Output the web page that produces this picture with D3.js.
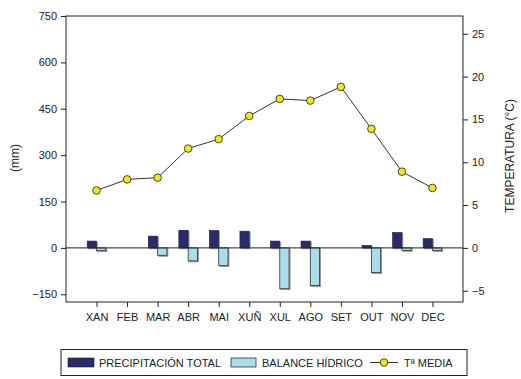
<!DOCTYPE html>
<html>
<head>
<meta charset="utf-8">
<script src="https://cdn.jsdelivr.net/npm/d3@7"></script>
<style>
  html, body { margin: 0; padding: 0; background: #fff; }
  svg { display: block; font-family: "Liberation Sans", Arial, sans-serif; }
</style>
</head>
<body>
<svg id="chart" width="521" height="379"></svg>
<script>
// Monthly climate data
const months = ["XAN", "FEB", "MAR", "ABR", "MAI", "XUÑ", "XUL", "AGO", "SET", "OUT", "NOV", "DEC"];
const precipitation = [22, 0, 38, 57, 56, 54, 22, 22, 0, 8, 50, 30];      // mm
const waterBalance = [-9, 0, -24, -42, -57, 0, -132, -122, 0, -80, -8, -8]; // mm
const temperature = [6.7, 8.0, 8.2, 11.6, 12.7, 15.4, 17.4, 17.2, 18.8, 13.9, 8.9, 7.0]; // °C
const mmTicks = [-150, 0, 150, 300, 450, 600, 750];
const tempTicks = [-5, 0, 5, 10, 15, 20, 25];

const svg = d3.select("#chart");
const plot = { left: 66, right: 463, top: 16, bottom: 302 };

const x = d3.scalePoint().domain(months).range([plot.left, plot.right]).padding(1);
const yMM = d3.scaleLinear().domain([-175, 750]).range([plot.bottom, plot.top]);
const yT = d3.scaleLinear().domain([-175 / 27.7, 750 / 27.7]).range([plot.bottom, plot.top]);

const barW = 9.3;
const navy = "#2c2a6c", lightBlue = "#a9dde8", yellow = "#f1e619";

// Shadow filter for the bars
const defs = svg.append("defs");
const f = defs.append("filter").attr("id", "shadow").attr("x", "-30%").attr("y", "-30%").attr("width", "160%").attr("height", "160%");
f.append("feDropShadow").attr("dx", 1).attr("dy", 1).attr("stdDeviation", 0.6).attr("flood-color", "#777").attr("flood-opacity", 0.8);

// Frame
svg.append("rect")
  .attr("x", plot.left).attr("y", plot.top)
  .attr("width", plot.right - plot.left).attr("height", plot.bottom - plot.top)
  .attr("fill", "none").attr("stroke", "#222").attr("stroke-width", 1);

// Precipitation bars (left of each month)
svg.append("g").selectAll("rect")
  .data(months.map((m, i) => ({ m, v: precipitation[i] })).filter(d => d.v !== 0))
  .join("rect")
  .attr("x", d => x(d.m) - barW)
  .attr("y", d => yMM(d.v))
  .attr("width", barW)
  .attr("height", d => yMM(0) - yMM(d.v))
  .attr("fill", navy).attr("stroke", "#1a1a40").attr("stroke-width", 0.6)
  .attr("filter", "url(#shadow)");

// Water balance bars (right of each month)
svg.append("g").selectAll("rect")
  .data(months.map((m, i) => ({ m, v: waterBalance[i] })).filter(d => d.v !== 0))
  .join("rect")
  .attr("x", d => x(d.m))
  .attr("y", d => yMM(Math.max(0, d.v)))
  .attr("width", barW)
  .attr("height", d => Math.abs(yMM(d.v) - yMM(0)))
  .attr("fill", lightBlue).attr("stroke", "#333").attr("stroke-width", 0.8)
  .attr("filter", "url(#shadow)");

// Zero line
svg.append("line")
  .attr("x1", plot.left).attr("x2", plot.right)
  .attr("y1", yMM(0)).attr("y2", yMM(0))
  .attr("stroke", "#222").attr("stroke-width", 1);

// Temperature line and markers
svg.append("path")
  .datum(temperature)
  .attr("fill", "none").attr("stroke", "#333").attr("stroke-width", 1)
  .attr("d", d3.line().x((d, i) => x(months[i])).y(d => yT(d)));

svg.append("g").selectAll("circle")
  .data(temperature)
  .join("circle")
  .attr("cx", (d, i) => x(months[i]))
  .attr("cy", d => yT(d))
  .attr("r", 3.8)
  .attr("fill", yellow).attr("stroke", "#333").attr("stroke-width", 0.9);

// Axes
function styleAxis(g) {
  g.select(".domain").remove();
  g.selectAll(".tick line").attr("stroke", "#222");
  g.selectAll(".tick text").attr("fill", "#222").style("font-size", "11px").style("font-family", "'Liberation Sans', Arial, sans-serif");
}

svg.append("g")
  .attr("transform", `translate(${plot.left},0)`)
  .call(d3.axisLeft(yMM).tickValues(mmTicks).tickSize(5).tickPadding(4))
  .call(styleAxis);

svg.append("g")
  .attr("transform", `translate(${plot.right},0)`)
  .call(d3.axisRight(yT).tickValues(tempTicks).tickSize(5).tickPadding(4))
  .call(styleAxis);

svg.append("g")
  .attr("transform", `translate(0,${plot.bottom})`)
  .call(d3.axisBottom(x).tickSize(5).tickPadding(6))
  .call(styleAxis);

// Axis titles
svg.append("text")
  .attr("transform", `translate(19,${(plot.top + plot.bottom) / 2 - 1}) rotate(-90)`)
  .attr("text-anchor", "middle")
  .style("font-size", "12px").attr("fill", "#222")
  .text("(mm)");

svg.append("text")
  .attr("transform", `translate(514,${(plot.top + plot.bottom) / 2 - 3}) rotate(-90)`)
  .attr("text-anchor", "middle")
  .style("font-size", "12px").attr("fill", "#222")
  .text("TEMPERATURA (°C)");

// Legend
const lg = svg.append("g");
lg.append("rect").attr("x", 61).attr("y", 349.5).attr("width", 406).attr("height", 26)
  .attr("fill", "#fff").attr("stroke", "#222").attr("stroke-width", 1);
const ly = 362.5;
const legendFont = "11px";
lg.append("rect").attr("x", 68).attr("y", ly - 4.5).attr("width", 26).attr("height", 9)
  .attr("fill", navy).attr("stroke", "#1a1a40").attr("stroke-width", 0.6);
lg.append("text").attr("x", 99).attr("y", ly + 4).style("font-size", legendFont).attr("fill", "#222").text("PRECIPITACIÓN TOTAL");
lg.append("rect").attr("x", 231).attr("y", ly - 4.5).attr("width", 25).attr("height", 9)
  .attr("fill", lightBlue).attr("stroke", "#333").attr("stroke-width", 0.8);
lg.append("text").attr("x", 262).attr("y", ly + 4).style("font-size", legendFont).attr("fill", "#222").text("BALANCE HÍDRICO");
lg.append("line").attr("x1", 370).attr("x2", 398).attr("y1", ly).attr("y2", ly).attr("stroke", "#333").attr("stroke-width", 1);
lg.append("circle").attr("cx", 384).attr("cy", ly).attr("r", 3.8).attr("fill", yellow).attr("stroke", "#333").attr("stroke-width", 0.9);
lg.append("text").attr("x", 404).attr("y", ly + 4).style("font-size", legendFont).attr("fill", "#222").text("Tª MEDIA");
</script>
</body>
</html>
